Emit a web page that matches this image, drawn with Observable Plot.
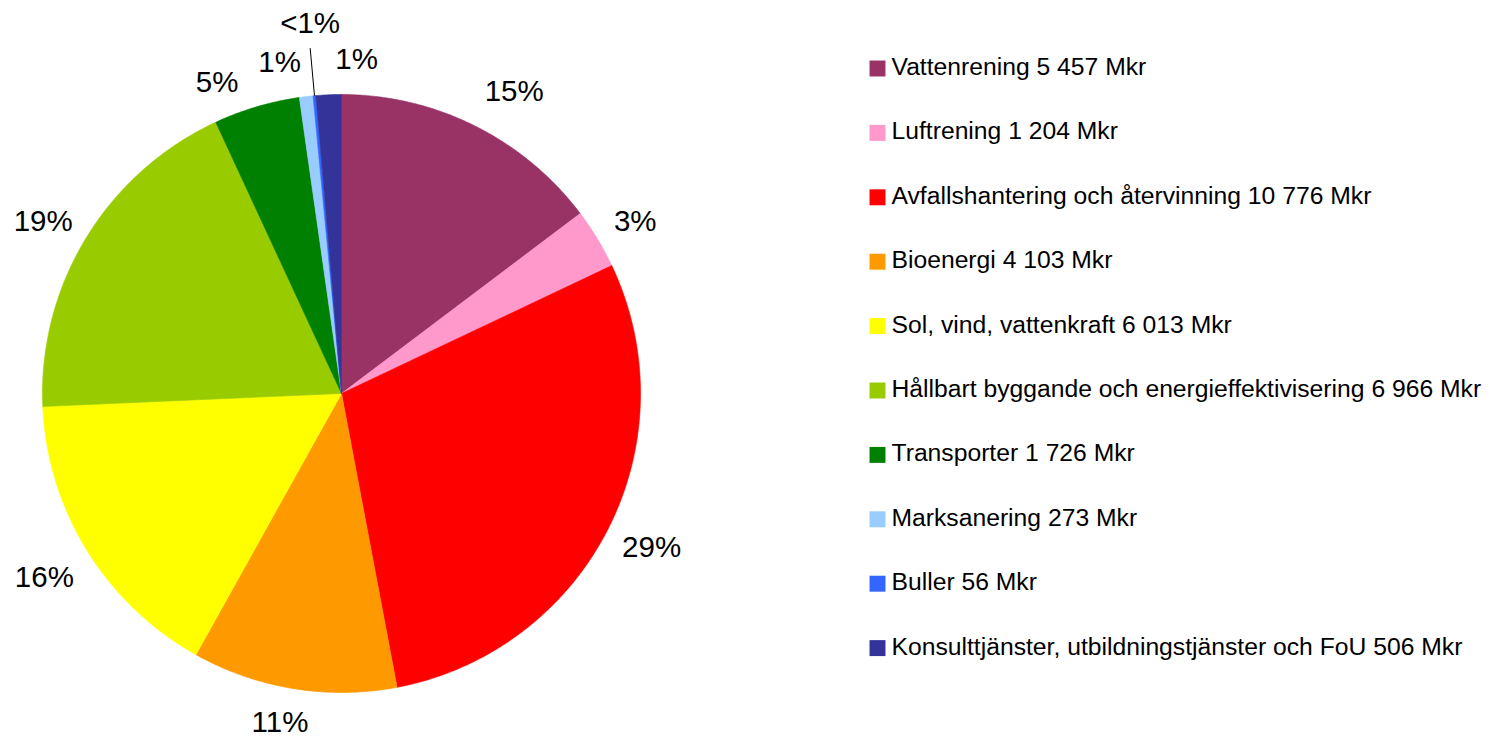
<!DOCTYPE html>
<html><head><meta charset="utf-8">
<script src="https://cdn.jsdelivr.net/npm/d3@7"></script>
<script src="https://cdn.jsdelivr.net/npm/@observablehq/plot@0.6"></script>
<style>body{margin:0;background:#fff;overflow:hidden}</style>
</head><body><div id="chart"></div>
<script>
const categories = ["Vattenrening","Luftrening","Avfallshantering och återvinning","Bioenergi","Sol, vind, vattenkraft","Hållbart byggande och energieffektivisering","Transporter","Marksanering","Buller","Konsulttjänster, utbildningstjänster och FoU"];
const values = [5457,1204,10776,4103,6013,6966,1726,273,56,506];
const valueLabels = ["5 457","1 204","10 776","4 103","6 013","6 966","1 726","273","56","506"];
const percentLabels = ["15%","3%","29%","11%","16%","19%","5%","1%","<1%","1%"];
const colors = ["#993366","#FF99CC","#FF0000","#FF9900","#FFFF00","#99CC00","#008000","#99CCFF","#3366FF","#333399"];

// layout
const W = 1490, H = 739, CX = 341, CY = 393, R = 299;
const px2x = px => (px - CX) / R;
const py2y = py => (CY - py) / R;
const FONT = "'Liberation Sans', Arial, sans-serif";

const arcs = d3.pie().sort(null).value(d => d)(values);

const slicePts = [];
arcs.forEach((a, i) => {
  const n = Math.max(2, Math.ceil((a.endAngle - a.startAngle) / (Math.PI / 360)));
  slicePts.push({i, x: 0, y: 0});
  for (let k = 0; k <= n; k++) {
    const t = a.startAngle + (a.endAngle - a.startAngle) * k / n;
    slicePts.push({i, x: Math.sin(t), y: Math.cos(t)});
  }
  slicePts.push({i, x: 0, y: 0});
});

// label placement: radius + pixel nudges for crowded labels
const LR = 1.16;
const nudges = [[18,8],[-3,8],[1,-3],[-6,-13],[-2,2],[-2,8],[-26,22],[-21,13],[0,-25],[30,13]];
const labels = arcs.map((a, i) => {
  const m = (a.startAngle + a.endAngle) / 2;
  return {x: LR * Math.sin(m) + nudges[i][0] / R, y: LR * Math.cos(m) - nudges[i][1] / R, text: percentLabels[i]};
});
const bm = (arcs[8].startAngle + arcs[8].endAngle) / 2;
const leader = [{x1: Math.sin(bm), y1: Math.cos(bm), x2: LR * Math.sin(bm), y2: LR * Math.cos(bm)}];

const ROW = 64.4;
const legend = categories.map((c, i) => ({
  x: px2x(877), y: py2y(68 + i * ROW),
  tx: px2x(891), ty: py2y(66.5 + i * ROW),
  color: colors[i], text: `${c} ${valueLabels[i]} Mkr`
}));

const chart = Plot.plot({
  width: W, height: H, margin: 0,
  x: {domain: [px2x(0), px2x(W)], range: [0, W], axis: null},
  y: {domain: [py2y(H), py2y(0)], range: [H, 0], axis: null},
  color: {type: "identity"},
  style: {fontFamily: FONT, background: "white"},
  marks: [
    Plot.line(slicePts, {x: "x", y: "y", z: "i", fill: d => colors[d.i], stroke: d => colors[d.i], strokeWidth: 0.6, curve: "linear"}),
    Plot.link(leader, {x1: "x1", y1: "y1", x2: "x2", y2: "y2", stroke: "black", strokeWidth: 1}),
    Plot.text(labels, {x: "x", y: "y", text: "text", fontSize: 29.5, fill: "black", fontFamily: FONT}),
    Plot.dot(legend, {x: "x", y: "y", symbol: "square", r: 9, fill: "color"}),
    Plot.text(legend, {x: "tx", y: "ty", text: "text", textAnchor: "start", fontSize: 24.7, fill: "black", fontFamily: FONT})
  ]
});
document.getElementById("chart").appendChild(chart);
</script>
</body></html>
